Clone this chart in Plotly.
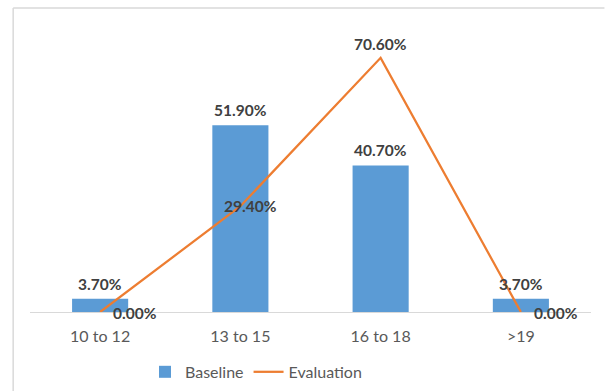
import plotly.graph_objects as go

# Age groups and share of participants in each
categories = ["10 to 12", "13 to 15", "16 to 18", ">19"]
baseline = [3.7, 51.9, 40.7, 3.7]
evaluation = [0.0, 29.4, 70.6, 0.0]

BLUE = "#5B9BD5"
ORANGE = "#ED7D31"
FONT = "Lato, Calibri, Arial, sans-serif"

fig = go.Figure()
fig.add_trace(go.Bar(
    x=categories, y=baseline, name="Baseline",
    marker=dict(color=BLUE, line=dict(width=0)), width=0.4,
))
fig.add_trace(go.Scatter(
    x=categories, y=evaluation, name="Evaluation", mode="lines",
    line=dict(color=ORANGE, width=2.25),
))

label_font = dict(family=FONT, size=15.5, color="#404040")

# Value labels above the bars
for c, v in zip(categories, baseline):
    fig.add_annotation(x=c, y=v, text=f"<b>{v:.2f}%</b>", showarrow=False,
                       xanchor="center", yanchor="bottom", yshift=4,
                       font=label_font)

# Value labels next to the line points
line_label_pos = [
    dict(xanchor="left", yanchor="middle", xshift=11, yshift=-1),
    dict(xanchor="center", yanchor="middle", xshift=10, yshift=0),
    dict(xanchor="center", yanchor="bottom", xshift=0, yshift=3),
    dict(xanchor="left", yanchor="middle", xshift=11, yshift=-1),
]
for c, v, pos in zip(categories, evaluation, line_label_pos):
    fig.add_annotation(x=c, y=v, text=f"<b>{v:.2f}%</b>", showarrow=False,
                       font=label_font, **pos)

# Outer chart-area frame: top and left edges
fig.add_shape(type="line", xref="paper", yref="paper",
              x0=-0.030, x1=1.024, y0=1.0556, y1=1.0556,
              line=dict(color="#D9D9D9", width=1.5))
fig.add_shape(type="line", xref="paper", yref="paper",
              x0=-0.030, x1=-0.030, y0=-0.35, y1=1.0556,
              line=dict(color="#D9D9D9", width=1.5))

fig.update_layout(
    width=605, height=391,
    margin=dict(l=30, r=14, t=24, b=79, autoexpand=False),
    paper_bgcolor="white", plot_bgcolor="white",
    font=dict(family=FONT, color="#595959", size=16),
    showlegend=True,
    legend=dict(orientation="h", x=0.205, y=-0.208, xanchor="left",
                yanchor="middle", font=dict(size=16, color="#595959"),
                itemwidth=30),
    bargap=0.6,
)
fig.update_xaxes(showline=True, linecolor="#D9D9D9", linewidth=1,
                 ticks="", showgrid=False, automargin=False,
                 tickfont=dict(size=16, color="#595959"),
                 ticklabelstandoff=10)
fig.update_yaxes(range=[0, 80], visible=False, showgrid=False, zeroline=False,
                 automargin=False)

fig.write_html("out.html", config={"displayModeBar": False})
